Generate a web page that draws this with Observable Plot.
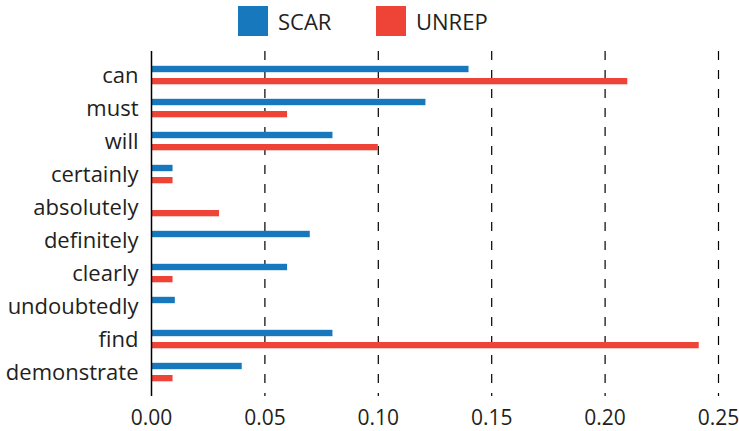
<!DOCTYPE html>
<html>
<head>
<meta charset="utf-8">
<script src="https://cdn.jsdelivr.net/npm/d3@7"></script>
<script src="https://cdn.jsdelivr.net/npm/@observablehq/plot@0.6"></script>
<style>
  html, body { margin: 0; padding: 0; background: #fff; }
  body { width: 739px; height: 431px; overflow: hidden; font-family: "Open Sans", sans-serif; color: #231f20; }
  #legend { position: relative; height: 42px; }
  .item { position: absolute; top: 6px; height: 30px; display: flex; align-items: center; font-size: 22px; }
  .sw { width: 30px; height: 30px; margin-right: 10px; }
</style>
</head>
<body>
<div id="legend"></div>
<div id="chart"></div>
<script>
const words = ["can", "must", "will", "certainly", "absolutely", "definitely", "clearly", "undoubtedly", "find", "demonstrate"];
const scar  = [0.14, 0.121, 0.08, 0.0095, 0, 0.07, 0.06, 0.0105, 0.08, 0.04];
const unrep = [0.21, 0.06, 0.10, 0.0095, 0.03, 0, 0.0095, 0, 0.2415, 0.0095];
const seriesNames = ["SCAR", "UNREP"];
const seriesColors = ["#1878be", "#ee4437"];
const xTicks = [0, 0.05, 0.10, 0.15, 0.20, 0.25];
const gridTicks = [0.05, 0.10, 0.15, 0.20, 0.25];

const scarData = words.map((w, i) => ({word: w, value: scar[i]}));
const unrepData = words.map((w, i) => ({word: w, value: unrep[i]}));

// legend
const legend = document.getElementById("legend");
const legendX = [238, 376];
seriesNames.forEach((s, i) => {
  const d = document.createElement("div");
  d.className = "item";
  d.style.left = legendX[i] + "px";
  d.innerHTML = `<div class="sw" style="background:${seriesColors[i]}"></div><span>${s}</span>`;
  legend.appendChild(d);
});

const chart = Plot.plot({
  width: 739,
  height: 389,
  marginLeft: 151,
  marginRight: 21,
  marginTop: 9,
  marginBottom: 35,
  style: {fontFamily: "Open Sans, sans-serif", fontSize: "22px", color: "#231f20", background: "#fff"},
  x: {domain: [0, 0.25], label: null},
  y: {domain: words, padding: 0, paddingOuter: 0.109, label: null},
  marks: [
    Plot.ruleX(gridTicks, {x: d => d, stroke: "#000", strokeWidth: 1.2, strokeDasharray: "9,10"}),
    Plot.barX(scarData, {x: "value", y: "word", fill: seriesColors[0], insetTop: 6.8, insetBottom: 19.8}),
    Plot.barX(unrepData, {x: "value", y: "word", fill: seriesColors[1], insetTop: 19, insetBottom: 7.7}),
    Plot.ruleX([0], {stroke: "#000", strokeWidth: 1.5}),
    Plot.axisX(xTicks, {tickFormat: d3.format(".2f"), tickSize: 0, tickPadding: 14, fontSize: 21, label: null}),
    Plot.axisY({tickSize: 0, tickPadding: 13, fontSize: 22, label: null})
  ]
});
document.getElementById("chart").appendChild(chart);
</script>
</body>
</html>
